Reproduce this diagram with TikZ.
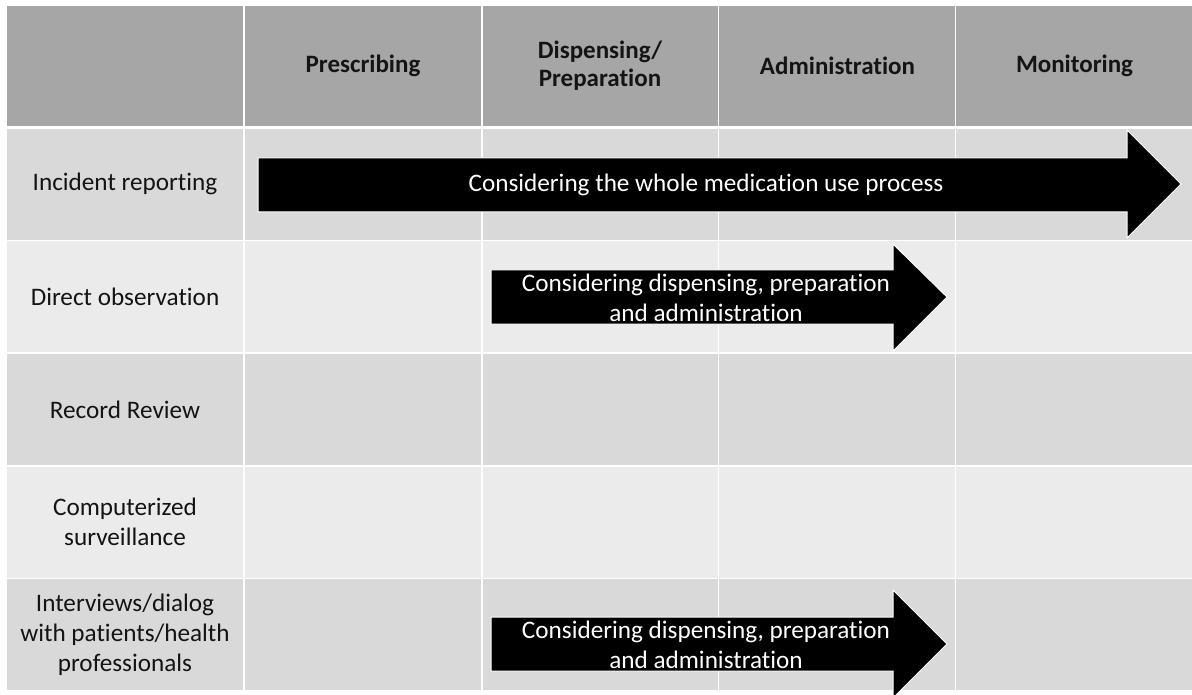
\documentclass[tikz,border=0pt]{standalone}
\usepackage{fontspec}
\setmainfont{Carlito}[Ligatures={NoCommon}]
\definecolor{hdrgray}{HTML}{A6A6A6}
\definecolor{darkrow}{HTML}{D9D9D9}
\definecolor{lightrow}{HTML}{EBEBEB}
\definecolor{ink}{HTML}{141414}
\begin{document}
\begin{tikzpicture}[x=1pt,y=-1pt,
  cell/.style={rectangle,draw=white,line width=1.5pt,inner sep=0pt,
    align=center,text=ink,font=\fontsize{25.2}{30}\selectfont},
  hcell/.style={cell,fill=hdrgray,minimum height=122pt,
    font=\fontsize{25}{28}\selectfont\bfseries},
  darkcell/.style={cell,fill=darkrow,minimum height=112.6pt},
  lightcell/.style={cell,fill=lightrow,minimum height=112.6pt},
  wide/.style={minimum width=238pt},
  narrow/.style={minimum width=236.5pt},
  fatarrow/.style={fill=black,draw=white,line width=1pt,line join=miter},
  arrowtext/.style={text=white,align=center,inner sep=0pt,
    font=\fontsize{25.2}{30}\selectfont}]
\useasboundingbox (0,0) rectangle (1192,695);
\fill[white] (0,0) rectangle (1192,695);

% header row
\node[hcell,wide] (h0) at (125,66) {};
\node[hcell,wide] (h1) at (363,66) {Prescribing};
\node[hcell,narrow] (h2) at (600,66) {Dispensing/\\Preparation};
\node[hcell,wide] (h3) at (837.5,66) {Administration};
\node[hcell,wide] (h4) at (1074.5,66) {Monitoring};

% body rows: method label plus four stage cells
\foreach \r/\y/\s/\lab in {1/184.3/darkcell/{Incident reporting},
    2/296.9/lightcell/{Direct observation},
    3/409.5/darkcell/{Record Review},
    4/522.1/lightcell/{Computerized\\surveillance},
    5/634.7/darkcell/{Interviews/dialog\\with patients/health\\professionals}}{
  \node[\s,wide] (r\r c0) at (125,\y) {\lab};
  \node[\s,wide] (r\r c1) at (363,\y) {};
  \node[\s,narrow] (r\r c2) at (600,\y) {};
  \node[\s,wide] (r\r c3) at (837.5,\y) {};
  \node[\s,wide] (r\r c4) at (1074.5,\y) {};
}
% thicker rule below the header
\draw[white,line width=3pt] (h0.south west) -- (h4.south east);

% scope arrows
\fill[fatarrow] (258,158) -- (1127,158) -- (1127,130) -- (1181,184)
  -- (1127,238) -- (1127,212) -- (258,212) -- cycle;
\node[arrowtext] (a1) at (706,185) {Considering the whole medication use process};

\fill[fatarrow] (491,270) -- (893,270) -- (893,244) -- (947,297)
  -- (893,351) -- (893,324) -- (491,324) -- cycle;
\node[arrowtext] (a2) at (706,298) {Considering dispensing, preparation\\and administration};

\fill[fatarrow] (491,617) -- (893,617) -- (893,590) -- (947,644)
  -- (893,698) -- (893,671) -- (491,671) -- cycle;
\node[arrowtext] (a3) at (706,645) {Considering dispensing, preparation\\and administration};
\end{tikzpicture}
\end{document}
